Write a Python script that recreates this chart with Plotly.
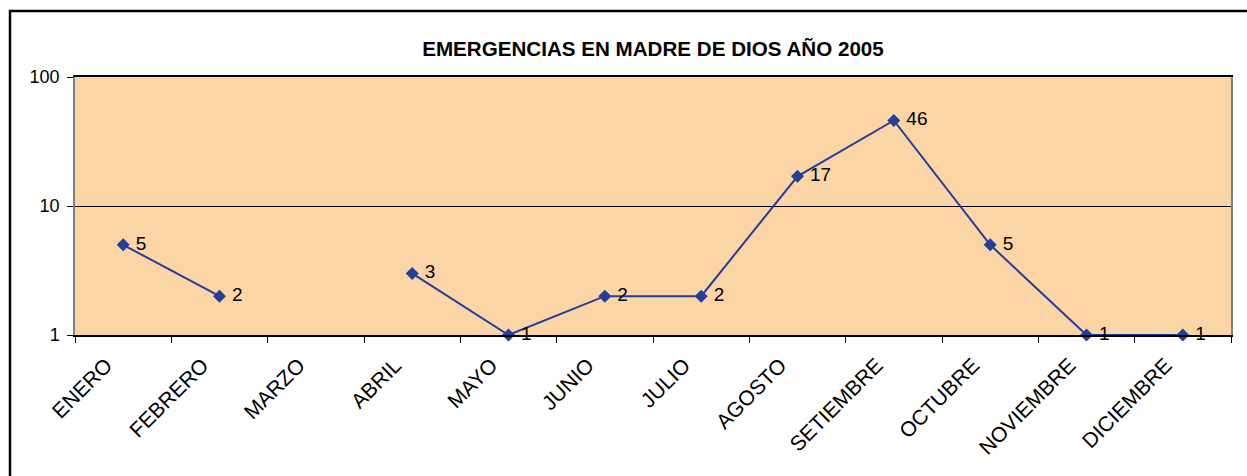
import plotly.graph_objects as go

months = ["ENERO", "FEBRERO", "MARZO", "ABRIL", "MAYO", "JUNIO", "JULIO",
          "AGOSTO", "SETIEMBRE", "OCTUBRE", "NOVIEMBRE", "DICIEMBRE"]
emergencias = [5, 2, None, 3, 1, 2, 2, 17, 46, 5, 1, 1]
labels = ["" if v is None else str(v) for v in emergencias]
title_text = "EMERGENCIAS EN MADRE DE DIOS AÑO 2005"

W, H = 1247, 476
L, R, T, B = 75, 16, 77, 141
pw, ph = W - L - R, H - T - B

fig = go.Figure()
fig.add_trace(go.Scatter(
    x=months, y=emergencias, mode="lines+markers+text",
    text=["\u00a0" + t for t in labels], textposition="middle right",
    textfont=dict(family="Arial, Liberation Sans", size=19, color="black"),
    line=dict(color="#233F99", width=2),
    marker=dict(symbol="diamond", size=10, color="#233F99"),
    connectgaps=False, cliponaxis=False, showlegend=False,
))

# outer chart border
fig.add_shape(type="rect", xref="paper", yref="paper",
              x0=(10 - L) / pw, x1=(W + 10 - L) / pw,
              y0=(T + ph - (H + 10)) / ph, y1=(T + ph - 11) / ph,
              line=dict(color="black", width=2.5), layer="above")

fig.update_layout(
    width=W, height=H,
    margin=dict(l=L, r=R, t=T, b=B),
    paper_bgcolor="white", plot_bgcolor="#FCD5A6",
    title=dict(text="<b>" + title_text + "</b>", x=(L + pw / 2) / W, xanchor="center",
               y=1 - 49 / H, yanchor="middle",
               font=dict(family="Arial, Liberation Sans", size=20.6, color="black")),
    font=dict(family="Arial, Liberation Sans", color="black"),
    xaxis=dict(type="category", tickson="boundaries", ticks="outside", ticklen=6,
               tickcolor="black", tickangle=-45, showgrid=False,
               showline=True, linecolor="black", linewidth=1.5, mirror=True,
               tickfont=dict(size=21), range=[-0.5, 11.5],
               ticklabelstandoff=8, ticklabelshift=-17),
    yaxis=dict(type="log", range=[0, 2], tickvals=[1, 10, 100], ticktext=["1", "10", "100"],
               ticks="outside", ticklen=6, tickcolor="black",
               showgrid=True, gridcolor="black", gridwidth=1,
               showline=True, linecolor="#808080", linewidth=1.5, mirror=True,
               tickfont=dict(size=18), zeroline=False, ticklabelstandoff=4),
)

fig.write_html("out.html", config={"displayModeBar": False},
               post_script="document.body.style.margin='0';document.body.style.overflow='hidden';")
